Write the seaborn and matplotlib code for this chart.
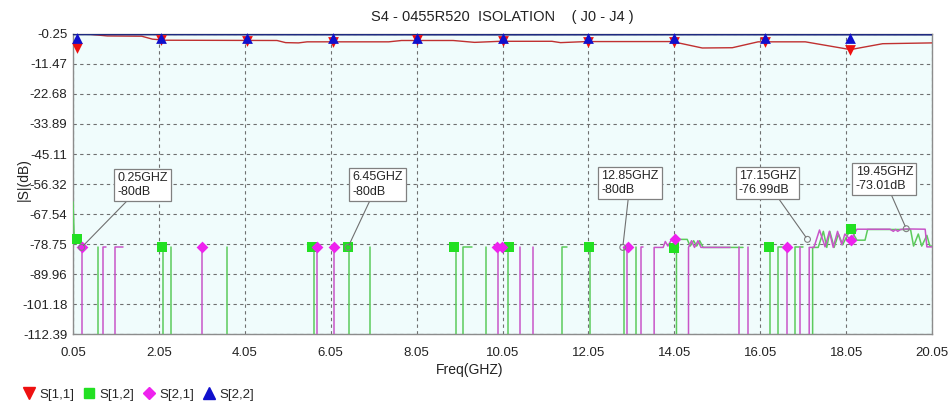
import numpy as np
import pandas as pd
import matplotlib
matplotlib.use("Agg")
import matplotlib.pyplot as plt
from matplotlib.lines import Line2D
import seaborn as sns

# axis ticks
x_ticks = [0.05, 2.05, 4.05, 6.05, 8.05, 10.05, 12.05, 14.05, 16.05, 18.05, 20.05]
y_ticks = [-0.25, -11.47, -22.68, -33.89, -45.11, -56.32, -67.54, -78.75, -89.96, -101.18, -112.39]
y_labels = ["-0.25", "-11.47", "-22.68", "-33.89", "-45.11", "-56.32", "-67.54",
            "-78.75", "-89.96", "-101.18", "-112.39"]

# S[1,1] trace (vertices)
s11_f = [0.05, 0.45, 0.85, 1.65, 1.9, 2.2, 4.8, 5.0, 5.3, 5.5, 7.4, 7.7, 8.9, 9.4, 10.0,
         11.2, 11.4, 12.0, 14.0, 14.35, 14.7, 15.4, 16.0, 17.1, 18.15, 18.9, 20.05]
s11_db = [-0.3, -0.4, -1.0, -1.1, -2.2, -2.6, -2.7, -3.5, -3.6, -3.2, -3.2, -2.7, -2.7, -3.4, -3.0,
          -3.0, -3.5, -3.1, -3.1, -4.3, -5.5, -5.4, -3.2, -3.2, -6.1, -3.9, -3.6]
s11_mk_f = [0.15, 2.1, 4.1, 6.1, 8.05, 10.05, 12.05, 14.05, 16.15, 18.15]
s11_mk_db = [-5.5, -2.5, -2.8, -3.2, -2.7, -3.0, -3.1, -3.2, -3.2, -6.1]

# S[2,2] trace
s22_f = [0.05, 5.0, 10.0, 15.0, 20.05]
s22_db = [-0.35, -0.4, -0.45, -0.4, -0.45]
s22_mk_f = [0.15, 2.1, 4.1, 6.1, 8.05, 10.05, 12.05, 14.05, 16.15, 18.15]
s22_mk_db = [-1.6, -1.6, -1.6, -1.6, -1.6, -1.6, -1.6, -1.6, -1.6, -1.6]

# S[1,2] trace: spikes up to -80 dB, short steps at -80 dB and longer pieces
s12_spikes = [0.63, 2.14, 2.33, 3.64, 5.66, 6.47, 6.96, 8.96, 9.66, 10.17, 12.08, 12.88, 13.15, 16.28]
s12_steps = [(9.14, 9.33), (11.44, 11.54), (16.47, 16.55), (16.86, 17.04)]
s12_start_f = [0.05, 0.08, 0.15]
s12_start_db = [-63, -77, -77]
s12_mid_f = [14.1, 14.12, 14.15, 14.35, 14.42, 14.5, 14.57, 14.64, 14.72, 15.65]
s12_mid_db = [-80, -80, -77, -77, -79.5, -77.5, -79.5, -77.5, -80, -80]
s12_end_f = [17.27, 17.4, 17.52, 17.6, 17.67, 17.77, 17.87, 17.97, 18.06, 18.16, 18.3, 18.49,
             18.55, 19.55, 19.62, 19.73, 19.81, 19.93, 20.0, 20.05]
s12_end_db = [-80, -80, -74, -80, -74, -80, -75, -79, -76, -73.3, -77.3, -77.3,
              -73.3, -73.3, -79.5, -75, -79.5, -75.5, -79.5, -79.5]
s12_mk_f = [0.14, 2.12, 5.62, 6.45, 8.93, 10.2, 12.07, 14.05, 16.26, 18.16]
s12_mk_db = [-77, -80, -80, -80, -80, -80, -80, -80.4, -80, -73.2]

# S[2,1] trace
s21_spikes = [0.25, 3.05, 5.74, 6.13, 10.46, 10.77, 12.95, 15.56, 15.77, 16.67, 16.97]
s21_steps = [(0.74, 0.82), (1.03, 1.21), (9.94, 10.03), (13.27, 13.33)]
s21_mid1_f = [13.58, 13.79, 13.84, 13.9, 13.97, 14.07, 14.15]
s21_mid1_db = [-80, -80, -77.8, -79.5, -77.5, -77, -80]
s21_mid2_f = [14.38, 14.45, 14.52, 14.6, 14.67, 15.35]
s21_mid2_db = [-80, -77.5, -80, -77.5, -80, -80]
s21_end_f = [17.19, 17.3, 17.43, 17.56, 17.66, 17.75, 17.85, 17.95, 18.02, 18.16, 18.3, 19.07,
             19.15, 19.2, 19.25, 19.32, 19.46, 19.89, 19.93, 20.05]
s21_end_db = [-80, -80, -73.5, -79.8, -74, -80, -74, -79, -75, -77.3, -73.2, -73.2,
              -74, -73.3, -74, -73.3, -73.1, -73.2, -79.8, -79.8]
s21_mk_f = [0.25, 3.05, 5.74, 6.13, 9.91, 10.03, 12.96, 14.07, 16.68, 18.16]
s21_mk_db = [-80, -80, -80, -80, -80, -80, -80, -77, -80, -77.3]

# marker annotations
ann_f = [0.25, 6.45, 12.85, 17.15, 19.45]
ann_db = [-80, -80, -80, -76.99, -73.01]
ann_text = ["0.25GHZ\n-80dB", "6.45GHZ\n-80dB", "12.85GHZ\n-80dB", "17.15GHZ\n-76.99dB", "19.45GHZ\n-73.01dB"]
ann_box_f = [1.08, 6.55, 12.35, 15.55, 18.27]
ann_box_db = [-56.7, -56.5, -55.9, -55.9, -54.4]

FLOOR = -130  # below the visible range


def build_trace(spikes, steps, pieces):
    rows = []
    seg = 0
    for x in spikes:
        rows += [(seg, x, FLOOR), (seg, x, -80)]
        seg += 1
    for a, b in steps:
        rows += [(seg, a, FLOOR), (seg, a, -80), (seg, b, -80)]
        seg += 1
    for fs, ds, rise in pieces:
        if rise:
            rows.append((seg, fs[0], FLOOR))
        rows += [(seg, f, d) for f, d in zip(fs, ds)]
        seg += 1
    return pd.DataFrame(rows, columns=["seg", "f", "db"])


s12_df = build_trace(s12_spikes, s12_steps,
                     [(s12_start_f, s12_start_db, False), (s12_mid_f, s12_mid_db, True),
                      (s12_end_f, s12_end_db, True)])
s21_df = build_trace(s21_spikes, s21_steps,
                     [(s21_mid1_f, s21_mid1_db, True), (s21_mid2_f, s21_mid2_db, True),
                      (s21_end_f, s21_end_db, True)])

sns.set_style("white")
plt.rcParams['font.family'] = ['Liberation Sans', 'DejaVu Sans']

fig, ax = plt.subplots(figsize=(9.53, 4.04), dpi=100)
fig.subplots_adjust(left=0.0766, right=0.978, top=0.916, bottom=0.173)
ax.set_facecolor("#F0FCFC")

c11, c11m = "#C03030", "#EE1010"
c12, c12m = "#5CCB5C", "#22E022"
c21, c21m = "#C855C8", "#EE22EE"
c22, c22m = "#1E2A80", "#1010CC"

sns.lineplot(data=s12_df, x="f", y="db", units="seg", estimator=None, sort=False,
             color=c12, lw=1.1, ax=ax, zorder=3)
sns.lineplot(data=s21_df, x="f", y="db", units="seg", estimator=None, sort=False,
             color=c21, lw=1.1, ax=ax, zorder=3)
sns.lineplot(x=s11_f, y=s11_db, color=c11, lw=1.0, ax=ax, zorder=4)
sns.lineplot(x=s22_f, y=s22_db, color=c22, lw=1.6, ax=ax, zorder=5)

sns.scatterplot(x=s12_mk_f, y=s12_mk_db, marker="s", s=50, color=c12m, linewidth=0, ax=ax, zorder=6, clip_on=False)
sns.scatterplot(x=s21_mk_f, y=s21_mk_db, marker="D", s=36, color=c21m, linewidth=0, ax=ax, zorder=7, clip_on=False)
sns.scatterplot(x=s11_mk_f, y=s11_mk_db, marker="v", s=60, color=c11m, linewidth=0, ax=ax, zorder=8, clip_on=False)
sns.scatterplot(x=s22_mk_f, y=s22_mk_db, marker="^", s=60, color=c22m, linewidth=0, ax=ax, zorder=9, clip_on=False)

# annotations
ax.scatter(ann_f, ann_db, s=18, facecolors="none", edgecolors="#808080", linewidths=0.8, zorder=10)
for f, d, t, bf, bd in zip(ann_f, ann_db, ann_text, ann_box_f, ann_box_db):
    ax.annotate(t, xy=(f, d), xytext=(bf, bd), fontsize=9, va="center", ha="left",
                linespacing=1.25,
                bbox=dict(boxstyle="square,pad=0.25", fc="white", ec="#808080", lw=0.9),
                arrowprops=dict(arrowstyle="-", color="#707070", lw=0.8, shrinkA=0, shrinkB=2),
                zorder=11)

ax.set_xlim(0.05, 20.05)
ax.set_ylim(-112.39, -0.25)
ax.set_xticks(x_ticks)
ax.set_xticklabels([f"{v:.2f}" for v in x_ticks])
ax.set_yticks(y_ticks)
ax.set_yticklabels(y_labels)
ax.tick_params(axis="both", length=0, labelsize=9.5, colors="#222222")
ax.tick_params(axis="x", pad=9)
ax.tick_params(axis="y", pad=4)
ax.grid(True, linestyle=(0, (3, 3)), color="#707070", lw=0.8)
for sp in ax.spines.values():
    sp.set_color("#8C8C8C")
    sp.set_linewidth(1.0)

ax.set_title("S4 - 0455R520  ISOLATION    ( J0 - J4 )", fontsize=10.5, pad=9, color="#222222")
ax.set_xlabel("Freq(GHZ)", fontsize=10, color="#222222")
ax.set_ylabel("|S|(dB)", fontsize=10, color="#222222")
ax.xaxis.set_label_coords(0.462, -0.095)
ax.yaxis.set_label_coords(-0.049, 0.515)

handles = [
    Line2D([], [], ls="none", marker="v", color=c11m, markersize=8),
    Line2D([], [], ls="none", marker="s", color=c12m, markersize=7),
    Line2D([], [], ls="none", marker="D", color=c21m, markersize=6),
    Line2D([], [], ls="none", marker="^", color=c22m, markersize=8),
]
fig.legend(handles, ["S[1,1]", "S[1,2]", "S[2,1]", "S[2,2]"], loc="lower left",
           bbox_to_anchor=(0.012, -0.022), ncol=4, frameon=False, fontsize=9.5,
           handlelength=0.9, handletextpad=0.3, columnspacing=0.7)

fig.savefig("out.png", dpi=100)
